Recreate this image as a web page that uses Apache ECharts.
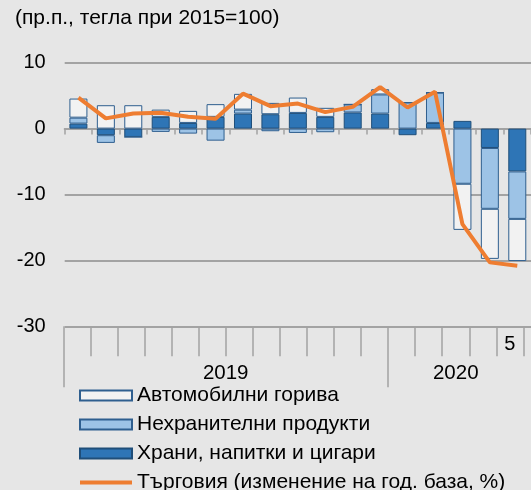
<!DOCTYPE html>
<html>
<head>
<meta charset="utf-8">
<script src="https://cdn.jsdelivr.net/npm/echarts@6/dist/echarts.min.js"></script>
<style>
html,body{margin:0;padding:0;background:#e6e6e6;}
#c{width:531px;height:490px;}
</style>
</head>
<body>
<div id="c"></div>
<script>
// ---- data ----
var months = ['01.2019','02.2019','03.2019','04.2019','05.2019','06.2019','07.2019','08.2019','09.2019','10.2019','11.2019','12.2019','01.2020','02.2020','03.2020','04.2020','05.2020'];
var monthTickLabels = ['','','','','','','','','','','','','','','','','5'];
var yearLabels = ['2019','2020'];
var yearMonthCounts = [12, 5];
var fuel    = [2.9, 3.55, 3.55, 1.1, 1.83, 1.93, 2.39, 1.72, 2.33, 1.37, 0, 0.8, 0, 0, -7.0, -7.6, -6.4];
var nonFood = [0.9, -1.17, 0, -0.5, -0.76, -1.83, 0.6, -0.4, -0.66, -0.55, 1.22, 2.9, 3.96, 4.6, -8.37, -9.23, -7.2];
var food    = [0.76, -1.0, -1.27, 1.78, 0.86, 1.78, 2.28, 2.18, 2.38, 1.78, 2.45, 2.28, -1.0, 0.86, 1.17, -2.94, -6.5];
var trade   = [4.7, 1.55, 2.3, 2.4, 1.8, 1.5, 5.3, 3.4, 3.8, 2.5, 3.3, 6.3, 3.2, 5.6, -14.5, -20.3, -20.8];
var seriesNames = ['Автомобилни горива','Нехранителни продукти','Храни, напитки и цигари','Търговия (изменение на год. база, %)'];
var titleText = '(пр.п., тегла при 2015=100)';

// ---- build year axis (half-month positions) ----
var halfPoints = [];
var halfLabels = {};
var yearTicks = {};
var start = 0;
for (var y = 0; y < yearLabels.length; y++) {
  yearTicks[2 * start] = true;
  halfLabels[2 * start + yearMonthCounts[y]] = yearLabels[y];
  start += yearMonthCounts[y];
}
for (var i = 0; i <= 2 * months.length; i++) halfPoints.push(String(i));

var FONT = 'Liberation Sans, Arial, sans-serif';
var GRID_COL = '#a3a3a3';
var LINE_ICON = 'path://M0,0L0.01,0L0,0.01Z M52,10L51.99,10L52,9.99Z M0,3L52,3L52,7L0,7Z';

var chart = echarts.init(document.getElementById('c'));
chart.setOption({
  backgroundColor: '#e6e6e6',
  animation: false,
  textStyle: { fontFamily: FONT },
  title: {
    text: titleText, left: 15, top: 8, padding: 0,
    textStyle: { fontFamily: FONT, fontSize: 21, fontWeight: 'normal', color: '#000' }
  },
  legend: {
    data: [
      { name: seriesNames[0], icon: 'rect' },
      { name: seriesNames[1], icon: 'rect' },
      { name: seriesNames[2], icon: 'rect' },
      { name: seriesNames[3], icon: LINE_ICON }
    ],
    orient: 'vertical', left: 79, top: 385, height: 130, padding: 0,
    itemWidth: 52, itemHeight: 10, itemGap: 8,
    textStyle: { fontFamily: FONT, fontSize: 21, color: '#000', lineHeight: 20 }
  },
  grid: [
    { left: 64.7, right: 0, top: 62.7, bottom: 163.7 },
    { left: 63.3, right: 7.6, top: 62.7, bottom: 163.7 }
  ],
  yAxis: [
    {
      gridIndex: 0, type: 'value', min: -30, max: 10, interval: 10,
      axisLine: { show: false }, axisTick: { show: false },
      axisLabel: { fontFamily: FONT, fontSize: 20, color: '#000', margin: 19 },
      splitLine: { lineStyle: { color: GRID_COL, width: 2 } }
    },
    {
      gridIndex: 1, type: 'value', min: -30, max: 10, show: false
    }
  ],
  xAxis: [
    {
      gridIndex: 0, type: 'category', data: months,
      axisLine: { onZero: true, lineStyle: { color: GRID_COL, width: 2 } },
      axisTick: { show: true, interval: 0, length: 6, lineStyle: { color: GRID_COL, width: 1.5 } },
      axisLabel: { show: false }
    },
    {
      gridIndex: 1, type: 'category', data: months, position: 'bottom',
      axisLine: { show: false, onZero: false },
      axisTick: { show: true, interval: 0, length: 30, lineStyle: { color: GRID_COL, width: 1.5 } },
      axisLabel: {
        interval: 0, margin: 8, fontFamily: FONT, fontSize: 20, color: '#000',
        formatter: function (v, idx) { return monthTickLabels[idx]; }
      }
    },
    {
      gridIndex: 1, type: 'category', data: halfPoints, boundaryGap: false, position: 'bottom',
      axisLine: { show: false, onZero: false },
      axisTick: {
        show: true, length: 61, lineStyle: { color: GRID_COL, width: 1.5 },
        interval: function (idx) { return !!yearTicks[idx]; }
      },
      axisLabel: {
        interval: 0, margin: 37, fontFamily: FONT, fontSize: 20.5, color: '#000',
        formatter: function (v, idx) { return halfLabels[idx] || ''; }
      }
    }
  ],
  series: [
    {
      name: seriesNames[2], type: 'bar', stack: 'a', data: food, barWidth: 18,
      itemStyle: { color: '#2e75b6', borderColor: '#1f4e79', borderWidth: 1 }
    },
    {
      name: seriesNames[1], type: 'bar', stack: 'a', data: nonFood, barWidth: 18,
      itemStyle: { color: '#9dc3e6', borderColor: '#2f5f8f', borderWidth: 1 }
    },
    {
      name: seriesNames[0], type: 'bar', stack: 'a', data: fuel, barWidth: 18,
      itemStyle: { color: '#f2f2f2', borderColor: '#2f5f8f', borderWidth: 1 }
    },
    {
      name: seriesNames[3], type: 'line', data: trade, symbol: 'none', z: 5,
      lineStyle: { color: '#ee7d31', width: 4 }, itemStyle: { color: '#ee7d31' }
    }
  ]
});
</script>
</body>
</html>
